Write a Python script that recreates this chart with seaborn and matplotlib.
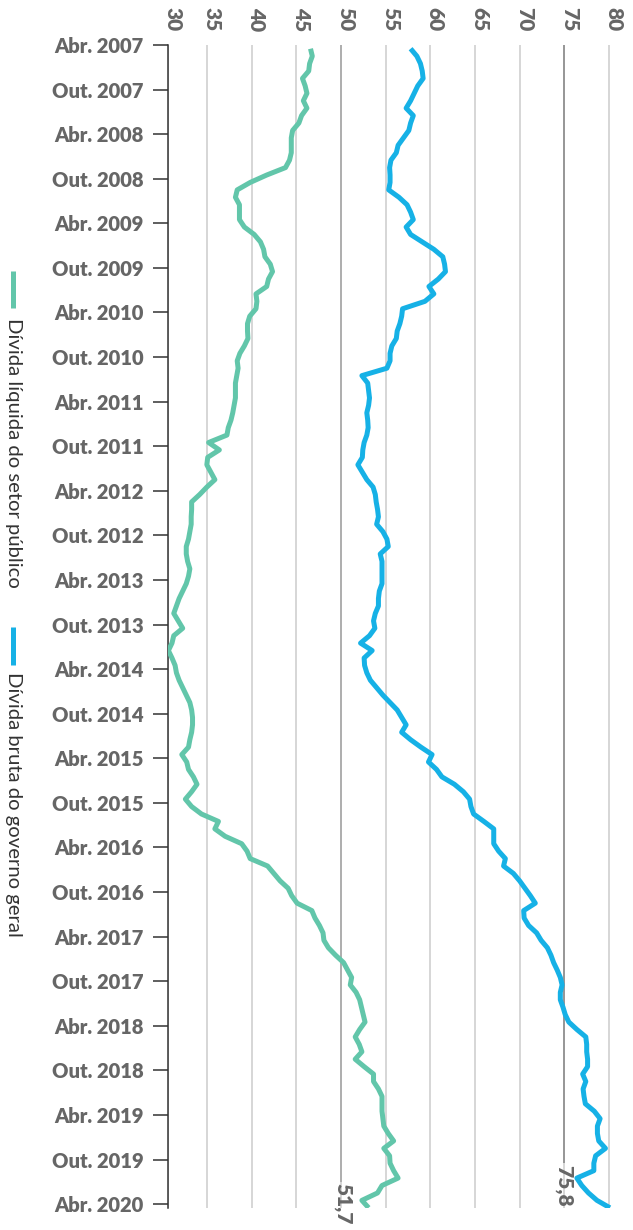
import numpy as np
import pandas as pd
import matplotlib
matplotlib.use("Agg")
import matplotlib.pyplot as plt
import matplotlib.transforms as mtransforms
import seaborn as sns

# ---------------- data ----------------
month_names = ["Jan", "Fev", "Mar", "Abr", "Mai", "Jun", "Jul", "Ago", "Set", "Out", "Nov", "Dez"]
start_year = 2007
start_month = 4  # Abr. 2007, monthly series up to Abr. 2020

series_names = ["Dívida líquida do setor público", "Dívida bruta do governo geral"]

divida_liquida = [
    46.6, 46.8, 46.5, 46.4, 45.7, 46.0, 46.2, 45.8, 46.2, 45.6,
    45.3, 44.6, 44.45, 44.45, 44.45, 44.25, 43.8, 41.7, 39.85, 38.4,
    38.2, 38.65, 38.65, 38.65, 39.2, 40.3, 41.0, 41.35, 41.5, 42.1,
    42.35, 41.9, 41.7, 40.5, 40.6, 40.5, 39.8, 39.55, 39.55, 39.6,
    39.2, 38.7, 38.4, 38.5, 38.35, 38.2, 38.2, 38.2, 38.05, 37.9,
    37.7, 37.4, 37.25, 35.2, 36.4, 35.1, 35.0, 35.45, 35.9, 35.0,
    34.2, 33.3, 33.3, 33.25, 33.25, 33.1, 32.95, 32.7, 32.7, 32.85,
    33.1, 32.95, 32.7, 32.3, 31.9, 31.6, 31.3, 31.8, 32.3, 31.3,
    31.1, 30.7, 31.1, 31.45, 31.6, 31.9, 32.3, 32.7, 33.1, 33.3,
    33.4, 33.4, 33.3, 33.1, 32.95, 32.2, 32.75, 32.95, 33.5, 33.9,
    33.3, 32.6, 33.3, 34.4, 36.3, 35.9, 37.05, 38.9, 39.5, 39.85,
    41.8, 42.5, 43.2, 44.1, 44.5, 45.1, 46.75, 47.1, 47.6, 48.0,
    48.1, 48.6, 49.4, 50.3, 50.75, 51.2, 51.05, 51.7, 52.1, 52.3,
    52.5, 52.7, 52.1, 51.6, 52.05, 52.35, 51.6, 52.6, 53.65, 53.65,
    54.2, 54.6, 54.6, 54.6, 54.7, 54.8, 55.3, 55.9, 54.8, 55.45,
    55.5, 55.9, 56.4, 54.6, 54.1, 52.35, 53.1,
]

divida_bruta = [
    57.8, 58.5, 58.9, 59.1, 59.2, 58.6, 58.2, 57.8, 57.3, 58.1,
    57.8, 57.6, 57.0, 56.4, 56.2, 55.6, 55.45, 55.5, 55.5, 55.35,
    56.5, 57.4, 57.8, 58.1, 57.3, 57.8, 59.1, 60.4, 61.4, 61.6,
    61.7, 60.9, 59.85, 60.4, 59.4, 56.9, 56.8, 56.6, 56.3, 56.2,
    55.7, 55.5, 55.5, 55.15, 52.35, 53.0, 53.1, 53.2, 53.1, 52.9,
    53.0, 53.05, 52.9, 52.6, 52.45, 52.4, 51.9, 52.4, 52.9, 53.6,
    53.85, 53.95, 54.1, 54.2, 54.0, 54.7, 55.15, 55.3, 54.4, 54.6,
    54.6, 54.6, 54.6, 54.3, 54.2, 54.2, 53.85, 53.65, 53.8, 53.2,
    52.2, 53.5, 52.6, 52.65, 52.9, 53.3, 54.0, 54.7, 55.5, 56.3,
    56.8, 57.3, 56.8, 57.8, 58.95, 60.2, 59.8, 60.7, 61.3, 62.7,
    63.7, 64.4, 64.55, 64.85, 66.0, 67.1, 67.1, 67.1, 67.65, 68.4,
    68.2, 69.3, 70.0, 70.6, 71.2, 71.75, 70.45, 70.5, 71.0, 71.9,
    72.4, 73.1, 73.5, 73.8, 74.2, 74.55, 74.75, 74.55, 74.55, 74.85,
    75.1, 75.5, 76.4, 77.4, 77.5, 77.5, 77.6, 77.6, 77.05, 77.4,
    77.1, 77.2, 77.35, 78.35, 79.0, 78.7, 78.7, 78.85, 79.6, 78.5,
    78.3, 78.3, 76.4, 76.95, 77.7, 78.65, 80.1,
]

value_ticks = [30, 35, 40, 45, 50, 55, 60, 65, 70, 75, 80]
end_labels = ["51,7", "75,8"]

# ---------------- style ----------------
colors = ["#62c6aa", "#16b1e6"]
label_gray = "#666666"

sns.set_theme(style="white")
plt.rcParams["font.family"] = ["Lato", "DejaVu Sans"]

W, H = 633, 1230
fig = plt.figure(figsize=(W / 100, H / 100), dpi=100)

x_lo, x_hi = 30.6, 80.5
n = len(divida_liquida)
y_lo, y_hi = 0.0, n - 0.5

left_px, right_px = 167.5, 613.5
top_px, bottom_px = 45, 1207.8
ax = fig.add_axes([left_px / W, 1 - bottom_px / H, (right_px - left_px) / W, (bottom_px - top_px) / H])

t = np.arange(n) + 0.5
df = pd.DataFrame({
    "t": np.concatenate([t, t]),
    "valor": divida_liquida + divida_bruta,
    "serie": [series_names[0]] * n + [series_names[1]] * n,
})

sns.lineplot(data=df, x="valor", y="t", hue="serie", orient="y", sort=False,
             estimator=None, palette=dict(zip(series_names, colors)),
             linewidth=3.6, legend=False, ax=ax, zorder=3)
for ln in ax.lines:
    ln.set_solid_capstyle("butt")
    ln.set_solid_joinstyle("round")

ax.set_xlim(x_lo, x_hi)
ax.set_ylim(y_hi, y_lo)

# x ticks on top
ax.xaxis.tick_top()
xt_pos = [max(v, x_lo) for v in value_ticks]
ax.set_xticks(xt_pos)
ax.set_xticklabels([str(v) for v in value_ticks], fontweight="heavy", color=label_gray,
                   fontsize=15, rotation=-90)
ax.tick_params(axis="x", length=0, pad=10)
shift = mtransforms.ScaledTranslation(5 / 100, 0, fig.dpi_scale_trans)
for lab in ax.get_xticklabels():
    lab.set_transform(lab.get_transform() + shift)
ax.grid(axis="x", color="#cccccc", linewidth=1.1)
ax.grid(axis="y", visible=False)
ax.set_axisbelow(True)

# y ticks: every 6 months
ytick_idx = list(range(0, n, 6))
ylabels = []
for i in ytick_idx:
    mm = start_month - 1 + i
    ylabels.append(f"{month_names[mm % 12]}. {start_year + mm // 12}")
ax.set_yticks(ytick_idx)
ax.set_yticklabels(ylabels, fontweight="heavy", color=label_gray, fontsize=14.5)
ax.tick_params(axis="y", length=10.8, width=1.1, color="#333333", pad=6.5, left=True)

for s in ["top", "right", "bottom"]:
    ax.spines[s].set_visible(False)
ax.spines["left"].set_color("#333333")
ax.spines["left"].set_linewidth(1.1)
ax.set_xlabel("")
ax.set_ylabel("")

# end annotations with reference lines
ann_x = [50.25, 74.95]
ann_line_x = [50, 75]
ann_y = [153.2, 150.7]
ann_line_col = ["#a3a3a3", "#858585"]
for lx, tx, ay, lab, lc in zip(ann_line_x, ann_x, ann_y, end_labels, ann_line_col):
    ax.vlines(lx, 0, ay - 0.2, colors=lc, linewidth=1.1, zorder=2)
    ax.text(tx, ay, lab, rotation=-90, ha="center", va="top", fontsize=15,
            fontweight="heavy", color=label_gray, clip_on=False)

# legend (rotated, on the left)
leg = [(271, 308, 318), (627, 665, 672)]
for (y0, y1, ty), name, c in zip(leg, series_names, colors):
    fig.add_artist(plt.Line2D([12.5 / W, 12.5 / W], [1 - y0 / H, 1 - y1 / H],
                              color=c, linewidth=3.6, solid_capstyle="butt"))
    fig.text(13.5 / W, 1 - ty / H, name, rotation=-90, ha="center", va="top",
             fontsize=14.6, color="#333333")

fig.savefig("out.png", dpi=100)
